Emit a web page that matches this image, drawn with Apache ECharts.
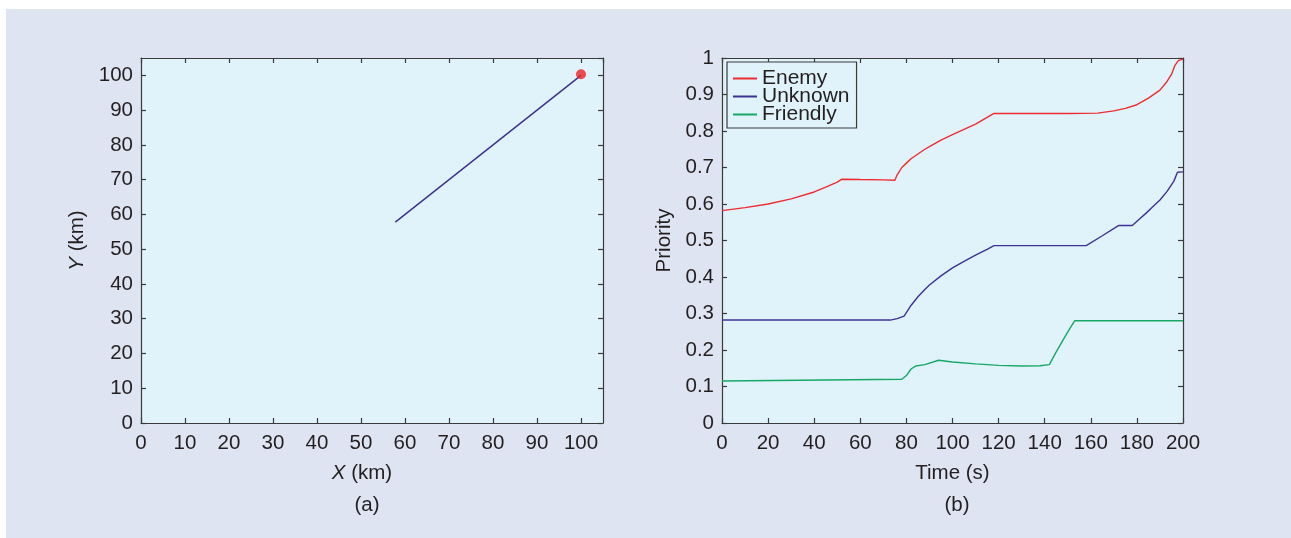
<!DOCTYPE html>
<html>
<head>
<meta charset="utf-8">
<script src="https://cdn.jsdelivr.net/npm/echarts@6/dist/echarts.min.js"></script>
<style>
html,body{margin:0;padding:0;background:#ffffff;}
#panel{position:absolute;left:6px;top:9px;width:1285px;height:529px;background:#dfe4f2;}
#chart{position:absolute;left:0;top:0;width:1291px;height:538px;}
</style>
</head>
<body>
<div id="panel"></div>
<div id="chart"></div>
<script>
// (a) trajectory
const trackX = [57.8, 100];
const trackY = [57.8, 100];
const targetX = [100];
const targetY = [100.3];
const xyTicks = [0, 10, 20, 30, 40, 50, 60, 70, 80, 90, 100];

// (b) priorities
const enemyT = [0, 10, 20, 30, 40, 45, 50, 52, 60, 70, 75, 76, 78, 80, 82, 85, 88, 90, 95, 100, 110, 118, 130, 140, 150, 163, 170, 175, 180, 185, 190, 193, 195, 196.5, 198, 200];
const enemy  = [0.582, 0.590, 0.600, 0.614, 0.633, 0.646, 0.660, 0.668, 0.667, 0.666, 0.665, 0.680, 0.700, 0.712, 0.724, 0.737, 0.750, 0.757, 0.775, 0.790, 0.819, 0.848, 0.848, 0.848, 0.848, 0.849, 0.855, 0.862, 0.872, 0.890, 0.912, 0.935, 0.955, 0.980, 0.993, 0.997];

const unknownT = [0, 73, 76, 79, 82, 85, 88, 90, 95, 100, 105, 110, 115, 118, 158, 165, 172, 178, 181, 184, 187, 190, 193, 196, 197.6, 200];
const unknown  = [0.282, 0.282, 0.286, 0.293, 0.322, 0.346, 0.366, 0.378, 0.403, 0.425, 0.443, 0.460, 0.476, 0.486, 0.486, 0.513, 0.541, 0.541, 0.558, 0.575, 0.593, 0.611, 0.634, 0.662, 0.687, 0.688];

const friendlyT = [0, 78, 80, 82, 84, 88, 94, 100, 110, 120, 130, 138, 142, 145, 148, 151, 153, 200];
const friendly  = [0.115, 0.120, 0.130, 0.148, 0.156, 0.160, 0.172, 0.167, 0.162, 0.158, 0.156, 0.157, 0.160, 0.195, 0.228, 0.260, 0.280, 0.280];

const timeTicks = [0, 20, 40, 60, 80, 100, 120, 140, 160, 180, 200];
const priorityTicks = [0, 0.1, 0.2, 0.3, 0.4, 0.5, 0.6, 0.7, 0.8, 0.9, 1];

const zip = (a, b) => a.map((v, i) => [v, b[i]]);

const FONT = '"Liberation Sans", Arial, Helvetica, sans-serif';
const FS = 20.5;
const TXT = '#231f20';
const AX = '#3a3a3a';
const PLOT_BG = '#e0f2fa';

function labelStyle(ticks, margin, showMax) {
  return {
    show: true, color: TXT, fontSize: FS, fontFamily: FONT, margin: margin,
    showMaxLabel: showMax,
    formatter: v => ticks.some(t => Math.abs(t - v) < 1e-9) ? String(+v.toFixed(3)) : ''
  };
}
function baseAxis(min, max, interval, extra) {
  return Object.assign({
    type: 'value', min: min, max: max, interval: interval,
    axisLine: {show: true, onZero: false, lineStyle: {color: AX, width: 1.2}},
    axisTick: {show: true, inside: true, length: 5, lineStyle: {color: AX, width: 1.2}},
    splitLine: {show: false},
    axisLabel: {show: false}
  }, extra);
}

const nameStyle = {
  color: TXT, fontSize: FS, fontFamily: FONT,
  rich: {i: {fontStyle: 'italic', fontSize: FS, fontFamily: FONT, color: TXT}}
};

const chart = echarts.init(document.getElementById('chart'), null, {renderer: 'canvas'});
chart.setOption({
  animation: false,
  backgroundColor: 'transparent',
  title: [
    {text: '(a)', left: 362, top: 490, textAlign: 'center',
     textStyle: {fontSize: FS, fontWeight: 'normal', color: TXT, fontFamily: FONT}},
    {text: '(b)', left: 952, top: 490, textAlign: 'center',
     textStyle: {fontSize: FS, fontWeight: 'normal', color: TXT, fontFamily: FONT}}
  ],
  grid: [
    {left: 141, top: 58, width: 462, height: 365, show: true, backgroundColor: PLOT_BG, borderWidth: 0},
    {left: 722, top: 58, width: 461, height: 365, show: true, backgroundColor: PLOT_BG, borderWidth: 0}
  ],
  legend: {
    left: 727, top: 62, orient: 'vertical',
    data: ['Enemy', 'Unknown', 'Friendly'],
    icon: 'rect', itemWidth: 24, itemHeight: 2, itemGap: -3, itemTextGap: 5,
    padding: [6, 7, 3, 6],
    borderColor: AX, borderWidth: 1.2, backgroundColor: PLOT_BG,
    textStyle: {fontSize: 21, lineHeight: 18, color: TXT, fontFamily: FONT}
  },
  xAxis: [
    baseAxis(0, 105, 10, {gridIndex: 0, position: 'bottom',
      name: '{i|X} (km)', nameLocation: 'middle', nameGap: 40,
      nameTextStyle: Object.assign({padding: [0, 20, 0, 0]}, nameStyle),
      axisLabel: labelStyle(xyTicks, 10, false)}),
    baseAxis(0, 105, 10, {gridIndex: 0, position: 'top'}),
    baseAxis(0, 200, 20, {gridIndex: 1, position: 'bottom',
      name: 'Time (s)', nameLocation: 'middle', nameGap: 40, nameTextStyle: nameStyle,
      axisLabel: labelStyle(timeTicks, 10, true)}),
    baseAxis(0, 200, 20, {gridIndex: 1, position: 'top'})
  ],
  yAxis: [
    baseAxis(0, 105, 10, {gridIndex: 0, position: 'left',
      name: '{i|Y} (km)', nameLocation: 'middle', nameGap: 53, nameTextStyle: nameStyle,
      axisLabel: labelStyle(xyTicks, 8, false)}),
    baseAxis(0, 105, 10, {gridIndex: 0, position: 'right'}),
    baseAxis(0, 1, 0.1, {gridIndex: 1, position: 'left',
      name: 'Priority', nameLocation: 'middle', nameGap: 47, nameTextStyle: nameStyle,
      axisLabel: labelStyle(priorityTicks, 8, true)}),
    baseAxis(0, 1, 0.1, {gridIndex: 1, position: 'right'})
  ],
  series: [
    {type: 'line', name: 'Track', xAxisIndex: 0, yAxisIndex: 0, data: zip(trackX, trackY),
     symbol: 'none', lineStyle: {color: '#3b2f8e', width: 1.4}, z: 3},
    {type: 'scatter', name: 'Target', xAxisIndex: 0, yAxisIndex: 0, data: zip(targetX, targetY),
     symbolSize: 10, itemStyle: {color: '#ee1f24'}, z: 4},
    {type: 'line', name: 'Enemy', xAxisIndex: 2, yAxisIndex: 2, data: zip(enemyT, enemy),
     symbol: 'none', color: '#ee2c30', lineStyle: {color: '#ee2c30', width: 1.4}},
    {type: 'line', name: 'Unknown', xAxisIndex: 2, yAxisIndex: 2, data: zip(unknownT, unknown),
     symbol: 'none', color: '#3e3394', lineStyle: {color: '#3e3394', width: 1.4}},
    {type: 'line', name: 'Friendly', xAxisIndex: 2, yAxisIndex: 2, data: zip(friendlyT, friendly),
     symbol: 'none', color: '#17a865', lineStyle: {color: '#17a865', width: 1.4}}
  ]
});
</script>
</body>
</html>
